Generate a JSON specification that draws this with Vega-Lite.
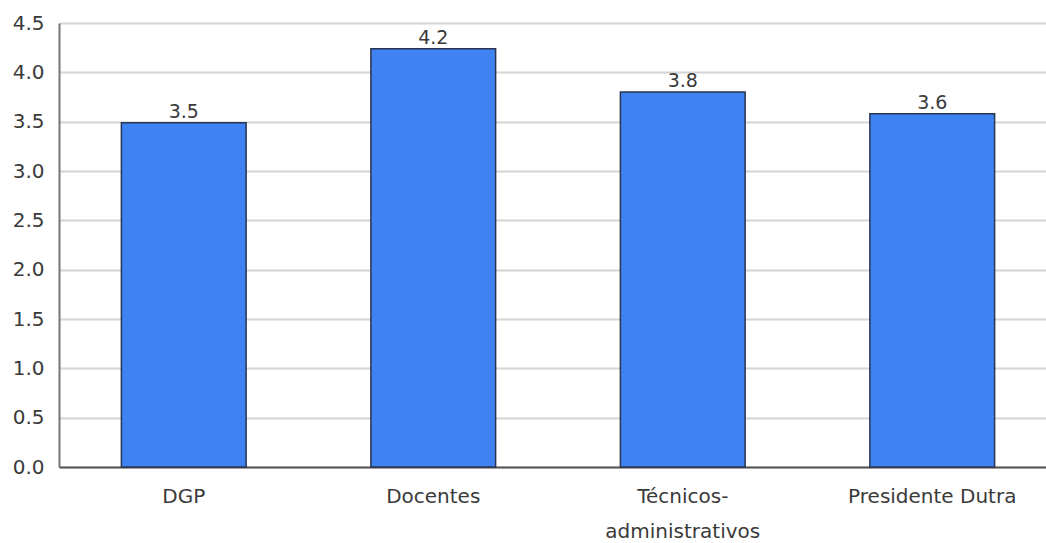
{
  "$schema": "https://vega.github.io/schema/vega-lite/v6.json",
  "width": 998,
  "height": 444,
  "autosize": "none",
  "padding": {"left": 59, "top": 23, "right": 0, "bottom": 76},
  "background": "white",
  "config": {"view": {"stroke": null}},
  "data": {"values": [
    {"grupo": "DGP", "valor": 3.49},
    {"grupo": "Docentes", "valor": 4.24},
    {"grupo": "Técnicos-administrativos", "valor": 3.8},
    {"grupo": "Presidente Dutra", "valor": 3.58}
  ]},
  "encoding": {
    "x": {"field": "grupo", "type": "nominal", "sort": null,
      "scale": {"paddingInner": 0.5, "paddingOuter": 0.25},
      "axis": {"title": null, "labelAngle": 0, "ticks": false, "domainColor": "#555555", "domainWidth": 2,
        "labelFont": "DejaVu Sans", "labelFontSize": 20, "labelColor": "#3a3a3a", "labelPadding": 19, "labelLineHeight": 35,
        "labelExpr": "datum.value == 'Técnicos-administrativos' ? ['Técnicos-', 'administrativos'] : datum.label"}},
    "y": {"field": "valor", "type": "quantitative",
      "scale": {"domain": [0, 4.5], "nice": false},
      "axis": {"title": null, "values": [0, 0.5, 1, 1.5, 2, 2.5, 3, 3.5, 4, 4.5], "format": ".1f", "ticks": false,
        "domainColor": "#777777", "domainWidth": 2, "gridColor": "#d4d4d4", "gridWidth": 2,
        "labelFont": "DejaVu Sans", "labelFontSize": 20, "labelColor": "#3a3a3a", "labelPadding": 15}}
  },
  "layer": [
    {"mark": {"type": "bar", "color": "#3f82f2", "stroke": "#2a3550", "strokeWidth": 1.5}},
    {"mark": {"type": "text", "baseline": "bottom", "dy": -1, "font": "DejaVu Sans", "fontSize": 19, "color": "#3a3a3a"},
     "encoding": {"text": {"field": "valor", "type": "quantitative", "format": ".1f"}}}
  ]
}
